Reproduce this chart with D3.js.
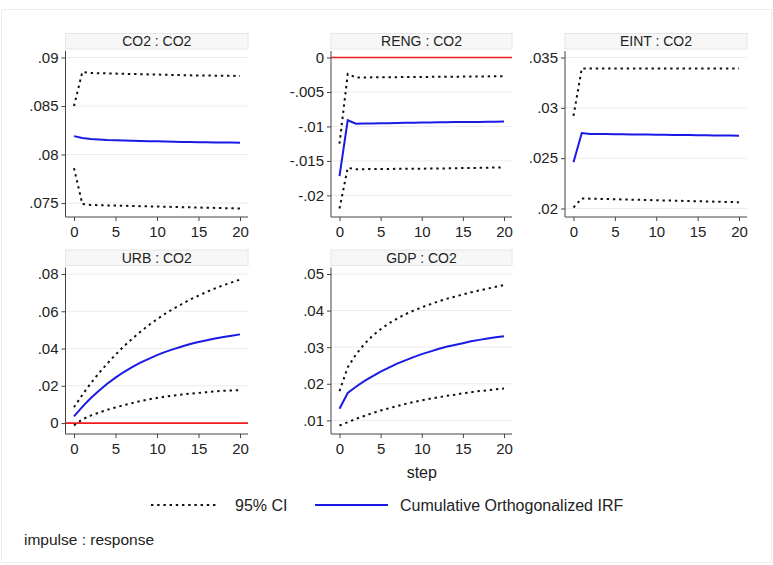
<!DOCTYPE html>
<html>
<head>
  <title>Cumulative Orthogonalized IRF</title>
  <script src="https://d3js.org/d3.v7.min.js"></script>
  <style>
    body { margin: 0; background: #fff; }
    text { font-family: "Liberation Sans", Arial, sans-serif; fill: #222; }
  </style>
</head>
<body>
  <div id="chart"></div>

  <script>
    // steps of the impulse response
    const steps = [0, 1, 2, 3, 4, 5, 6, 7, 8, 9, 10, 11, 12, 13, 14, 15, 16, 17, 18, 19, 20];
    const xTicks = [0, 5, 10, 15, 20];

    const titles = ["CO2 : CO2", "RENG : CO2", "EINT : CO2", "URB : CO2", "GDP : CO2"];

    // CO2 : CO2
    const co2Irf = [0.0819, 0.0817, 0.0816, 0.08155, 0.0815, 0.08148, 0.08145, 0.08142, 0.0814, 0.08138, 0.08136, 0.08134, 0.08132, 0.0813, 0.08128, 0.08127, 0.08126, 0.08125, 0.08124, 0.08123, 0.08122];
    const co2Hi = [0.0850, 0.0885, 0.0884, 0.08838, 0.08836, 0.08834, 0.08832, 0.0883, 0.08828, 0.08826, 0.08824, 0.08822, 0.0882, 0.08818, 0.08816, 0.08815, 0.08814, 0.08813, 0.08812, 0.08811, 0.0881];
    const co2Lo = [0.0786, 0.0749, 0.0748, 0.07478, 0.07476, 0.07474, 0.07472, 0.0747, 0.07468, 0.07466, 0.07464, 0.07462, 0.0746, 0.07458, 0.07456, 0.07454, 0.07452, 0.0745, 0.07448, 0.07446, 0.07444];
    const co2Ticks = [0.075, 0.08, 0.085, 0.09];

    // RENG : CO2
    const rengIrf = [-0.0172, -0.0091, -0.0096, -0.00958, -0.00956, -0.00954, -0.00952, -0.0095, -0.00948, -0.00946, -0.00944, -0.00942, -0.0094, -0.00938, -0.00937, -0.00936, -0.00935, -0.00934, -0.00933, -0.00932, -0.0093];
    const rengHi = [-0.0125, -0.0024, -0.0029, -0.00289, -0.00288, -0.00287, -0.00286, -0.00285, -0.00284, -0.00283, -0.00282, -0.00281, -0.0028, -0.00279, -0.00278, -0.00277, -0.00276, -0.00275, -0.00274, -0.00273, -0.00272];
    const rengLo = [-0.0219, -0.0160, -0.0162, -0.01619, -0.01618, -0.01617, -0.01616, -0.01615, -0.01614, -0.01613, -0.01612, -0.01611, -0.0161, -0.01608, -0.01606, -0.01604, -0.01602, -0.016, -0.01598, -0.01596, -0.01594];
    const rengTicks = [-0.02, -0.015, -0.01, -0.005, 0];

    // EINT : CO2
    const eintIrf = [0.0246, 0.0275, 0.0274, 0.0274, 0.02739, 0.02738, 0.02737, 0.02736, 0.02735, 0.02734, 0.02733, 0.02732, 0.02731, 0.0273, 0.02729, 0.02728, 0.02727, 0.02726, 0.02725, 0.02724, 0.02723];
    const eintHi = [0.0292, 0.0339, 0.0339, 0.0339, 0.0339, 0.0339, 0.0339, 0.0339, 0.0339, 0.0339, 0.0339, 0.0339, 0.0339, 0.0339, 0.0339, 0.0339, 0.0339, 0.0339, 0.0339, 0.0339, 0.0339];
    const eintLo = [0.0201, 0.0210, 0.02098, 0.02096, 0.02094, 0.02092, 0.0209, 0.02088, 0.02086, 0.02084, 0.02082, 0.0208, 0.02078, 0.02076, 0.02074, 0.02072, 0.0207, 0.02068, 0.02066, 0.02064, 0.02062];
    const eintTicks = [0.02, 0.025, 0.03, 0.035];

    // URB : CO2
    const urbIrf = [0.0036, 0.0087, 0.0133, 0.0174, 0.0211, 0.0244, 0.0274, 0.0300, 0.0324, 0.0345, 0.0365, 0.0382, 0.0397, 0.0411, 0.0424, 0.0435, 0.0445, 0.0454, 0.0462, 0.0469, 0.0476];
    const urbHi = [0.0085, 0.0151, 0.0212, 0.0268, 0.0319, 0.0367, 0.0412, 0.0452, 0.0490, 0.0525, 0.0557, 0.0587, 0.0614, 0.0639, 0.0663, 0.0684, 0.0704, 0.0723, 0.0740, 0.0755, 0.0770];
    const urbLo = [-0.0013, 0.0020, 0.0040, 0.0056, 0.0071, 0.0084, 0.0096, 0.0107, 0.0118, 0.0127, 0.0135, 0.0142, 0.0148, 0.0153, 0.0158, 0.0162, 0.0166, 0.0170, 0.0173, 0.0175, 0.0177];
    const urbTicks = [0, 0.02, 0.04, 0.06, 0.08];

    // GDP : CO2
    const gdpIrf = [0.0132, 0.0175, 0.0192, 0.0207, 0.0220, 0.0233, 0.0244, 0.0255, 0.0264, 0.0273, 0.0281, 0.0288, 0.0295, 0.0301, 0.0306, 0.0311, 0.0316, 0.0320, 0.0324, 0.0327, 0.0330];
    const gdpHi = [0.0180, 0.0245, 0.0280, 0.0308, 0.0331, 0.0349, 0.0365, 0.0378, 0.0390, 0.0400, 0.0409, 0.0417, 0.0425, 0.0432, 0.0438, 0.0444, 0.0450, 0.0455, 0.0460, 0.0465, 0.0470];
    const gdpLo = [0.0086, 0.0095, 0.0104, 0.0112, 0.0120, 0.0127, 0.0133, 0.0139, 0.0145, 0.0150, 0.0155, 0.0159, 0.0163, 0.0167, 0.0170, 0.0174, 0.0177, 0.0180, 0.0182, 0.0185, 0.0187];
    const gdpTicks = [0.01, 0.02, 0.03, 0.04, 0.05];

    const legendLabels = ["95% CI", "Cumulative Orthogonalized IRF"];

    // panels built from the arrays above
    const panels = [
      { title: titles[0], irf: co2Irf, hi: co2Hi, lo: co2Lo, ticks: co2Ticks, zero: false },
      { title: titles[1], irf: rengIrf, hi: rengHi, lo: rengLo, ticks: rengTicks, zero: true },
      { title: titles[2], irf: eintIrf, hi: eintHi, lo: eintLo, ticks: eintTicks, zero: false },
      { title: titles[3], irf: urbIrf, hi: urbHi, lo: urbLo, ticks: urbTicks, zero: true },
      { title: titles[4], irf: gdpIrf, hi: gdpHi, lo: gdpLo, ticks: gdpTicks, zero: false }
    ];

    const width = 773, height = 565;
    const colLeft = [65.5, 331, 565];
    const colRight = [248, 512, 747];
    const rowTop = [51, 267.5];
    const rowBottom = [217, 434];

    const fmt = v => v === 0 ? "0" : String(v).replace("0.", ".");

    const svg = d3.select("#chart")
      .append("svg")
      .attr("width", width)
      .attr("height", height);

    svg.append("rect")
      .attr("width", width)
      .attr("height", height)
      .attr("fill", "#fff");

    // faint outer frame
    svg.append("rect")
      .attr("x", 1.5).attr("y", 9.5)
      .attr("width", width - 3).attr("height", height - 12)
      .attr("fill", "none")
      .attr("stroke", "#ededed");

    panels.forEach(function(p, i) {
      const col = i % 3, row = Math.floor(i / 3);
      const L = colLeft[col], R = colRight[col], T = rowTop[row], B = rowBottom[row];

      const xScale = d3.scaleLinear().domain([0, 20]).range([L + 8.5, R - 8]);
      const all = p.ticks.concat(p.irf, p.hi, p.lo);
      const yScale = d3.scaleLinear().domain(d3.extent(all)).range([B - 8.5, T + 6.5]);

      const g = svg.append("g");

      // title box
      g.append("rect")
        .attr("x", L).attr("y", T - 17.5)
        .attr("width", R - L).attr("height", 15.5)
        .attr("fill", "#f7f7f7")
        .attr("stroke", "#e6e6e6");
      g.append("text")
        .attr("x", (L + R) / 2).attr("y", T - 9.5)
        .attr("dy", "0.35em")
        .attr("text-anchor", "middle")
        .style("font-size", "14px")
        .text(p.title);

      // grid lines
      g.selectAll(".grid")
        .data(p.ticks)
        .enter()
        .append("line")
        .attr("x1", L).attr("x2", R)
        .attr("y1", d => yScale(d)).attr("y2", d => yScale(d))
        .attr("stroke", "#ececec");

      if (p.zero) {
        g.append("line")
          .attr("x1", L).attr("x2", R)
          .attr("y1", yScale(0)).attr("y2", yScale(0))
          .attr("stroke", "#f21b1b")
          .attr("stroke-width", 1.6);
      }

      const line = d3.line()
        .x((d, j) => xScale(steps[j]))
        .y(d => yScale(d));

      [p.hi, p.lo].forEach(function(s) {
        g.append("path")
          .attr("d", line(s))
          .attr("fill", "none")
          .attr("stroke", "#111")
          .attr("stroke-width", 2)
          .attr("stroke-dasharray", "2.4,3.8");
      });

      g.append("path")
        .attr("d", line(p.irf))
        .attr("fill", "none")
        .attr("stroke", "#1a1ae6")
        .attr("stroke-width", 2);

      // axes
      const yAxis = g.append("g")
        .attr("transform", "translate(" + L + ",0)")
        .call(d3.axisLeft(yScale).tickValues(p.ticks).tickFormat(fmt).tickSize(4).tickPadding(3));
      const xAxis = g.append("g")
        .attr("transform", "translate(0," + B + ")")
        .call(d3.axisBottom(xScale).tickValues(xTicks).tickSize(4).tickPadding(5));
      [yAxis, xAxis].forEach(function(a) {
        a.select(".domain").remove();
        a.selectAll("line").attr("stroke", "#444");
        a.selectAll("text").style("font-size", "15px").attr("fill", "#222")
          .style("font-family", "Liberation Sans, Arial, sans-serif");
      });
      g.append("line")
        .attr("x1", L).attr("x2", L).attr("y1", T).attr("y2", B)
        .attr("stroke", "#444");
      g.append("line")
        .attr("x1", L).attr("x2", R).attr("y1", B).attr("y2", B)
        .attr("stroke", "#444");

      if (i === 4) {
        g.append("text")
          .attr("x", (xScale(0) + xScale(20)) / 2).attr("y", 472)
          .attr("dy", "0.35em")
          .attr("text-anchor", "middle")
          .style("font-size", "16px")
          .text("step");
      }
    });

    // legend
    const legY = 505;
    svg.append("line")
      .attr("x1", 151).attr("x2", 218).attr("y1", legY).attr("y2", legY)
      .attr("stroke", "#111").attr("stroke-width", 2).attr("stroke-dasharray", "2.4,3.8");
    svg.append("text")
      .attr("x", 235).attr("y", legY).attr("dy", "0.35em")
      .style("font-size", "16px")
      .text(legendLabels[0]);
    svg.append("line")
      .attr("x1", 315).attr("x2", 388).attr("y1", legY).attr("y2", legY)
      .attr("stroke", "#1a1ae6").attr("stroke-width", 2);
    svg.append("text")
      .attr("x", 400).attr("y", legY).attr("dy", "0.35em")
      .style("font-size", "16px")
      .text(legendLabels[1]);

    svg.append("text")
      .attr("x", 24).attr("y", 540).attr("dy", "0.35em")
      .style("font-size", "15.5px")
      .text("impulse : response");
  </script>
</body>
</html>
